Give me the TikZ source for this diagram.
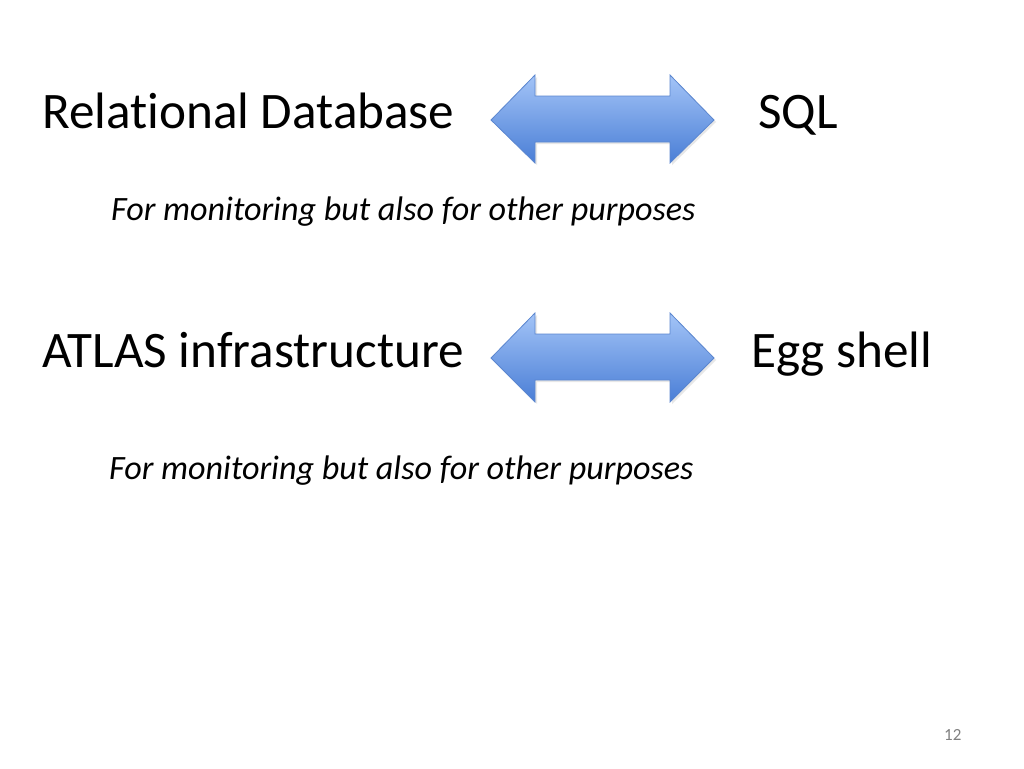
\documentclass[tikz,border=0pt]{standalone}
\usepackage{fontspec}
\setmainfont{Carlito}[RawFeature={-liga;-dlig}]
\begin{document}
\begin{tikzpicture}[x=1pt,y=-1pt,
  big/.style={anchor=base west,inner sep=0pt,font=\fontsize{51.2}{60}\selectfont},
  note/.style={anchor=base west,inner sep=0pt,font=\fontsize{34.1}{40}\selectfont\itshape},
  dblarrow/.style={top color=arrowtop,bottom color=arrowbot,draw=arrowedge,line width=0.8pt,line join=miter}]
\definecolor{arrowtop}{HTML}{A3C4F7}
\definecolor{arrowbot}{HTML}{4A7ED6}
\definecolor{arrowedge}{HTML}{5B86CF}
\useasboundingbox (0,0) rectangle (1024,768);
\fill[white] (0,0) rectangle (1024,768);
% row 1
\node[big] (rdb) at (42,128) {Relational Database};
\node[big] (sql) at (758,128) {SQL};
\node[note] (n1) at (111,220) {For monitoring but also for other purposes};
\fill[black!18,opacity=0.5] (493,122)--(537,77)--(537,98)--(672,98)--(672,77)--(716,122)--(672,165)--(672,144)--(537,144)--(537,165)--cycle;
\path[dblarrow] (491,120)--(535,75)--(535,96)--(670,96)--(670,75)--(714,120)--(670,163)--(670,142)--(535,142)--(535,163)--cycle;
% row 2
\node[big] (atlas) at (42,367) {ATLAS infrastructure};
\node[big] (egg) at (751,367) {Egg shell};
\node[note] (n2) at (109,479) {For monitoring but also for other purposes};
\fill[black!18,opacity=0.5] (493,360)--(537,315)--(537,336)--(672,336)--(672,315)--(716,360)--(672,404)--(672,382)--(537,382)--(537,404)--cycle;
\path[dblarrow] (491,358)--(535,313)--(535,334)--(670,334)--(670,313)--(714,358)--(670,402)--(670,380)--(535,380)--(535,402)--cycle;
% page number
\node[anchor=base west,inner sep=0pt,font=\fontsize{17}{20}\selectfont,text=black!50] (pg) at (944,740) {12};
\end{tikzpicture}
\end{document}
